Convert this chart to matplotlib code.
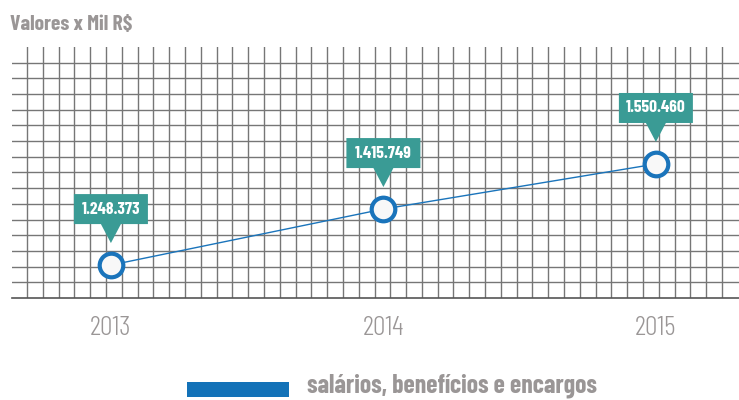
import numpy as np
import matplotlib.pyplot as plt
import matplotlib.transforms as mtransforms
from matplotlib.patches import Polygon, Rectangle

# data
years = [2013, 2014, 2015]
values = [1248373, 1415749, 1550460]
value_labels = ["1.248.373", "1.415.749", "1.550.460"]
year_labels = ["2013", "2014", "2015"]
series_name = "salários, benefícios e encargos"
title = "Valores x Mil R$"

blue = "#1a74bb"
teal = "#3a9b95"
grid_c = "#767676"
txt_gray = "#9a9696"
font = ["Barlow Condensed", "Asap Condensed", "DejaVu Sans"]

fig = plt.figure(figsize=(7.39, 4.0), dpi=100)
ax = fig.add_axes([12 / 739, 102 / 400, 727 / 739, 251 / 400])

x0, x1 = 2012.637, 2015.305
y0, y1 = 1150000, 1900000
ax.set_xlim(x0, x1)
ax.set_ylim(y0, y1)

# grid
for gx in np.linspace(x0 + 15 / 727 * (x1 - x0), x0 + 710 / 727 * (x1 - x0), 45):
    ax.axvline(gx, color=grid_c, lw=1.0, zorder=1)
for gy in np.linspace(y0, y1, 17)[1:-1]:
    ax.axhline(gy, color=grid_c, lw=1.0, zorder=1)

for s in ["top", "left", "right"]:
    ax.spines[s].set_visible(False)
ax.spines["bottom"].set_color("#555555")
ax.spines["bottom"].set_linewidth(1.2)
ax.set_yticks([])
ax.set_xticks(years)
ax.set_xticklabels(year_labels, fontfamily=font, fontsize=20, fontweight=300, color=txt_gray)
ax.tick_params(axis="x", length=0, pad=13)

# line + markers
ax.plot(years, values, color=blue, lw=1.0, zorder=3)
ax.plot(years, values, "o", ms=17, mew=3, mfc="#f8f8f8", mec=blue, zorder=4)

# callouts
for x, v, lab in zip(years, values, value_labels):
    tr = mtransforms.Affine2D() + mtransforms.ScaledTranslation(x, v, ax.transData)
    shape = Polygon([(-37, 41), (-10, 41), (0, 22), (10, 41), (37, 41), (37, 71), (-37, 71)],
                    closed=True, transform=tr, facecolor=teal, edgecolor="none", zorder=5)
    ax.add_patch(shape)
    ax.text(0, 56, lab, transform=tr, ha="center", va="center", color="white",
            fontfamily=font, fontweight="bold", fontsize=12.5, zorder=6)

# title
fig.text(10 / 739, 370 / 400, title, fontfamily=font, fontweight="bold",
         fontsize=15.5, color=txt_gray, va="baseline")

# legend
fig.patches.append(Rectangle((187 / 739, 3 / 400), 102 / 739, 15 / 400,
                             transform=fig.transFigure, facecolor="#1372b8", edgecolor="none"))
fig.text(307 / 739, 7 / 400, series_name, fontfamily=font, fontweight="bold",
         fontsize=18.5, color=txt_gray, va="baseline")

fig.savefig("out.png", dpi=100)
